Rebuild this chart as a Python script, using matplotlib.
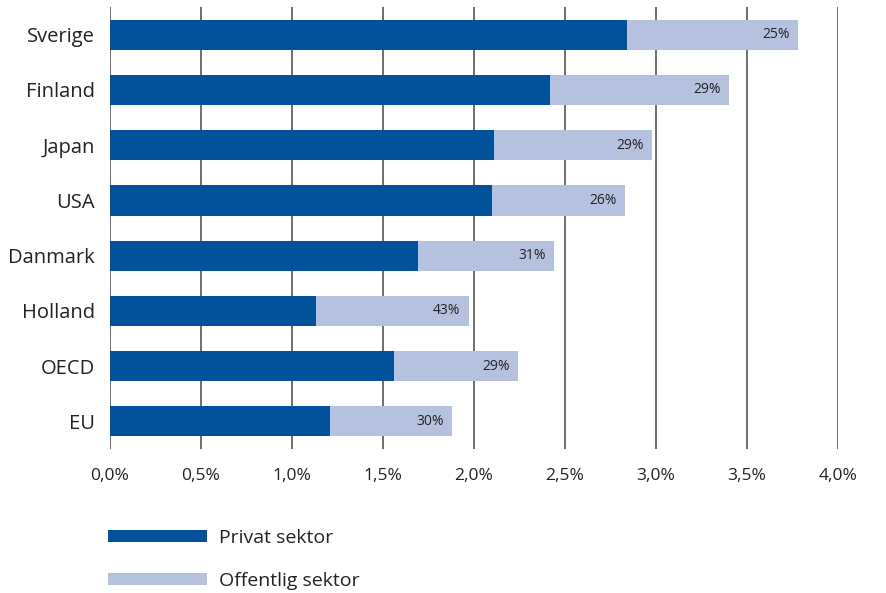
import matplotlib
matplotlib.use('Agg')
import matplotlib.pyplot as plt
from matplotlib.ticker import FuncFormatter

# R&D spending as share of GDP, split by sector
countries = ['Sverige', 'Finland', 'Japan', 'USA', 'Danmark', 'Holland', 'OECD', 'EU']
privat = [2.84, 2.42, 2.11, 2.10, 1.69, 1.13, 1.56, 1.21]
offentlig = [0.94, 0.98, 0.87, 0.73, 0.75, 0.84, 0.68, 0.67]
andel_offentlig = ['25%', '29%', '29%', '26%', '31%', '43%', '29%', '30%']

dark_blue = '#02529B'
light_blue = '#B5C1DF'
text_color = '#222222'

plt.rcParams['font.family'] = ['Open Sans', 'DejaVu Sans']

fig = plt.figure(figsize=(8.87, 5.93), dpi=100)
ax = fig.add_axes([0.124, 0.2428, 0.8208, 0.7452])

y = range(len(countries))
ax.barh(y, privat, height=0.545, color=dark_blue, label='Privat sektor', zorder=3)
ax.barh(y, offentlig, left=privat, height=0.545, color=light_blue,
        label='Offentlig sektor', zorder=3)

# share of public sector written at the end of each bar
for i, (p, o, s) in enumerate(zip(privat, offentlig, andel_offentlig)):
    ax.text(p + o - 0.045, i, s, ha='right', va='center', fontsize=10,
            color=text_color, zorder=4)

ax.set_xlim(0, 4.0)
ax.set_ylim(len(countries) - 0.5, -0.5)
ax.set_xticks([0, 0.5, 1.0, 1.5, 2.0, 2.5, 3.0, 3.5, 4.0])
ax.xaxis.set_major_formatter(FuncFormatter(lambda v, _: f'{v:.1f}%'.replace('.', ',')))
ax.set_yticks(list(y))
ax.set_yticklabels(countries)

ax.grid(axis='x', color='#555555', linewidth=1.2, zorder=0)
for side in ['top', 'right', 'bottom', 'left']:
    ax.spines[side].set_visible(False)
ax.tick_params(axis='x', length=0, pad=14, labelsize=12.5, labelcolor=text_color)
ax.tick_params(axis='y', length=0, pad=11, labelsize=14.5, labelcolor=text_color)

fig.legend(loc='center left', bbox_to_anchor=(108 / 887, 0.057), frameon=False,
           fontsize=14, handlelength=5.1, handleheight=0.55, labelspacing=1.3,
           handletextpad=0.6, borderpad=0, borderaxespad=0, labelcolor=text_color)

fig.savefig('out.png', dpi=100)
